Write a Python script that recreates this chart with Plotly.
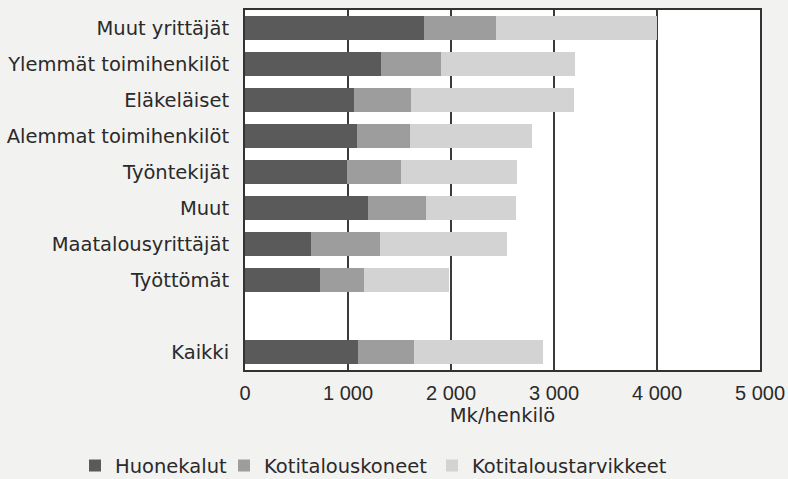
import plotly.graph_objects as go

categories = ["Muut yrittäjät", "Ylemmät toimihenkilöt", "Eläkeläiset",
              "Alemmat toimihenkilöt", "Työntekijät", "Muut",
              "Maatalousyrittäjät", "Työttömät", "", "Kaikki"]
# cumulative end points (Mk/henkilö); None = blank row
huonekalut_end = [1740, 1320, 1060, 1090, 990, 1190, 640, 730, None, 1096]
koneet_end = [2440, 1905, 1612, 1602, 1515, 1757, 1311, 1151, None, 1640]
tarvikkeet_end = [4000, 3204, 3194, 2786, 2641, 2633, 2545, 1985, None, 2896]

series_names = ["Huonekalut", "Kotitalouskoneet", "Kotitaloustarvikkeet"]
series_colors = ["#5a5a5a", "#9d9d9d", "#d3d3d3"]

x_ticks = [0, 1000, 2000, 3000, 4000, 5000]
x_ticktext = ["0", "1 000", "2 000", "3 000", "4 000", "5 000"]

huonekalut = [a for a in huonekalut_end]
koneet = [(b - a) if a is not None else None for a, b in zip(huonekalut_end, koneet_end)]
tarvikkeet = [(c - b) if b is not None else None for b, c in zip(koneet_end, tarvikkeet_end)]

n = len(categories)
ypos = [n - 1 - i for i in range(n)]

legend_ids = ["legend", "legend2", "legend3"]
legend_left_px = [75, 224, 432]

fig = go.Figure()
for name, vals, col, lid in zip(series_names, [huonekalut, koneet, tarvikkeet],
                                series_colors, legend_ids):
    fig.add_trace(go.Bar(
        y=ypos, x=vals, name=name, orientation="h",
        marker=dict(color=col, line=dict(width=0)),
        width=0.69, legend=lid,
    ))

plot_l, plot_w = 245, 515
legend_common = dict(
    orientation="h", xref="paper", yref="paper",
    y=-0.212, xanchor="left", yanchor="top",
    font=dict(family="DejaVu Sans", size=19.5, color="#2a2a2a"),
    bgcolor="rgba(0,0,0,0)", itemwidth=30,
)
legends = {}
for lid, px in zip(legend_ids, legend_left_px):
    legends[lid] = dict(legend_common, x=(px - plot_l) / plot_w)

fig.update_layout(
    barmode="stack",
    width=788, height=479,
    margin=dict(l=plot_l, r=788 - plot_l - plot_w, t=10, b=109, autoexpand=False),
    paper_bgcolor="#f2f2f0",
    plot_bgcolor="#ffffff",
    showlegend=True,
    xaxis=dict(
        range=[0, 5000], tickvals=x_ticks, ticktext=x_ticktext,
        showgrid=True, gridcolor="#3a3a3a", gridwidth=1.5,
        showline=True, linecolor="#333333", linewidth=2, mirror=True,
        zeroline=False, ticks="",
        tickfont=dict(family="Liberation Sans", size=20, color="#2a2a2a"),
        ticklabelstandoff=4,
        title=dict(text="Mk/henkilö", font=dict(family="DejaVu Sans", size=19.5, color="#2a2a2a"),
                   standoff=2),
    ),
    yaxis=dict(
        range=[-0.5, n - 0.5], tickvals=ypos, ticktext=categories,
        showgrid=False, zeroline=False,
        showline=True, linecolor="#333333", linewidth=2, mirror=True,
        ticks="",
        tickfont=dict(family="DejaVu Sans", size=19.5, color="#2a2a2a"),
        ticklabelstandoff=10,
    ),
    **legends,
)

post = ("document.body.style.margin='0';"
        "document.body.style.overflow='hidden';"
        "document.body.style.background='#f2f2f0';")
fig.write_html("out.html", post_script=post, config={"displayModeBar": False})
